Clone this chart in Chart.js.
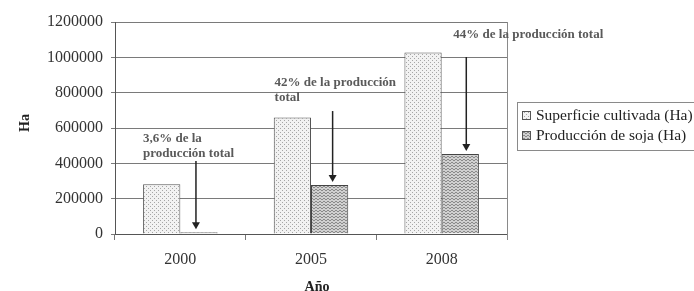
<!DOCTYPE html>
<html>
<head>
<meta charset="utf-8">
<script src="https://cdn.jsdelivr.net/npm/chart.js@4.4.1/dist/chart.umd.min.js"></script>
<style>
  html, body { margin: 0; padding: 0; background: #fff; }
  #wrap { width: 694px; height: 291px; position: relative; }
</style>
</head>
<body>
<div id="wrap"><canvas id="soja"></canvas></div>
<script>
// datos
const years = ['2000', '2005', '2008'];
const superficie = [282000, 660000, 1028000];
const soja = [10000, 277000, 453000];
const seriesNames = ['Superficie cultivada (Ha)', 'Producción de soja (Ha)'];
const notes = [
    ['3,6% de la', 'producción total'],
    ['42% de la producción', 'total'],
    ['44% de la producción total']
];
// altura (en Ha) donde empieza el texto y la flecha
const noteTop = [538000, 855000, 1126000];
const arrowTop = [413000, 696000, 1002000];

const serif = "'Liberation Serif', 'DejaVu Serif', serif";

function dots() {
    const c = document.createElement('canvas');
    c.width = 4; c.height = 4;
    const g = c.getContext('2d');
    g.fillStyle = '#f2f2f2';
    g.fillRect(0, 0, 4, 4);
    g.fillStyle = '#a6a6a6';
    g.fillRect(0, 0, 1, 1);
    g.fillRect(2, 2, 1, 1);
    return g.createPattern(c, 'repeat');
}

function waves() {
    const c = document.createElement('canvas');
    c.width = 4; c.height = 3;
    const g = c.getContext('2d');
    g.fillStyle = '#d0d0d0';
    g.fillRect(0, 0, 4, 3);
    g.fillStyle = '#8a8a8a';
    g.fillRect(0, 0, 1, 1);
    g.fillRect(1, 1, 1, 1);
    g.fillRect(2, 1, 1, 1);
    g.fillRect(3, 0, 1, 1);
    return g.createPattern(c, 'repeat');
}

const fills = [dots(), waves()];

const extras = {
    id: 'extras',
    afterDraw(chart) {
        const ctx = chart.ctx;
        const area = chart.chartArea;
        const y = chart.scales.y;
        ctx.save();

        // borde derecho del area
        ctx.strokeStyle = '#8a8a8a';
        ctx.lineWidth = 1;
        ctx.beginPath();
        ctx.moveTo(Math.round(area.right) + 0.5, area.top);
        ctx.lineTo(Math.round(area.right) + 0.5, area.bottom + 6);
        ctx.stroke();

        // textos y flechas
        const meta = chart.getDatasetMeta(1);
        const textDx = [-53, -58, -13];
        const arrowDx = [-3, 3, 6];
        ctx.font = 'bold 13px ' + serif;
        ctx.textBaseline = 'middle';
        ctx.textAlign = 'left';
        notes.forEach((lines, i) => {
            const bar = meta.data[i];
            const ax = bar.x + arrowDx[i];
            const ty = y.getPixelForValue(noteTop[i]);
            ctx.fillStyle = '#5a5a5a';
            lines.forEach((t, k) => {
                ctx.fillText(t, ax + textDx[i], ty + k * 15);
            });
            const y0 = y.getPixelForValue(arrowTop[i]);
            const y1 = bar.y - 3;
            ctx.strokeStyle = '#222';
            ctx.lineWidth = 1.5;
            ctx.beginPath();
            ctx.moveTo(ax, y0);
            ctx.lineTo(ax, y1 - 6);
            ctx.stroke();
            ctx.fillStyle = '#222';
            ctx.beginPath();
            ctx.moveTo(ax - 4, y1 - 7);
            ctx.lineTo(ax + 4, y1 - 7);
            ctx.lineTo(ax, y1);
            ctx.closePath();
            ctx.fill();
        });

        // titulos de ejes
        ctx.fillStyle = '#222';
        ctx.font = 'bold 14px ' + serif;
        ctx.textAlign = 'center';
        ctx.fillText('Año', (area.left + area.right) / 2 + 6, 287);
        ctx.save();
        ctx.translate(25, 123);
        ctx.rotate(-Math.PI / 2);
        ctx.fillText('Ha', 0, 0);
        ctx.restore();

        // leyenda
        const lx = 517, ly = 102;
        ctx.strokeStyle = '#8a8a8a';
        ctx.lineWidth = 1;
        ctx.strokeRect(lx + 0.5, ly + 0.5, 200, 48);
        ctx.font = '15.5px ' + serif;
        ctx.textAlign = 'left';
        seriesNames.forEach((name, i) => {
            const cy = ly + 13 + i * 20;
            ctx.fillStyle = fills[i];
            ctx.fillRect(lx + 5, cy - 4, 9, 9);
            ctx.strokeStyle = '#555';
            ctx.strokeRect(lx + 5.5, cy - 3.5, 8, 8);
            ctx.fillStyle = '#222';
            ctx.fillText(name, lx + 19, cy + 1);
        });
        ctx.restore();
    }
};

new Chart(document.getElementById('soja'), {
    type: 'bar',
    data: {
        labels: years,
        datasets: [{
            label: seriesNames[0],
            data: superficie,
            backgroundColor: fills[0],
            borderColor: '#555',
            borderWidth: 1
        }, {
            label: seriesNames[1],
            data: soja,
            backgroundColor: fills[1],
            borderColor: '#444',
            borderWidth: 1
        }]
    },
    options: {
        responsive: true,
        maintainAspectRatio: false,
        animation: false,
        layout: { padding: { top: 22, right: 187, left: 0, bottom: 0 } },
        datasets: { bar: { categoryPercentage: 0.57, barPercentage: 1 } },
        scales: {
            x: {
                grid: { drawOnChartArea: false, offset: true, tickLength: 6, color: '#777' },
                border: { color: '#555' },
                ticks: { color: '#333', padding: 10, font: { family: serif, size: 16 } },
                afterFit: s => { s.height = 57; }
            },
            y: {
                min: 0,
                max: 1200000,
                ticks: {
                    stepSize: 200000,
                    color: '#333',
                    padding: 8,
                    font: { family: serif, size: 16 },
                    callback: v => String(v)
                },
                grid: { color: '#7a7a7a', tickLength: 4 },
                border: { color: '#555' },
                afterFit: s => { s.width = 115; }
            }
        },
        plugins: {
            legend: { display: false },
            tooltip: { enabled: false }
        }
    },
    plugins: [extras]
});
</script>
</body>
</html>
